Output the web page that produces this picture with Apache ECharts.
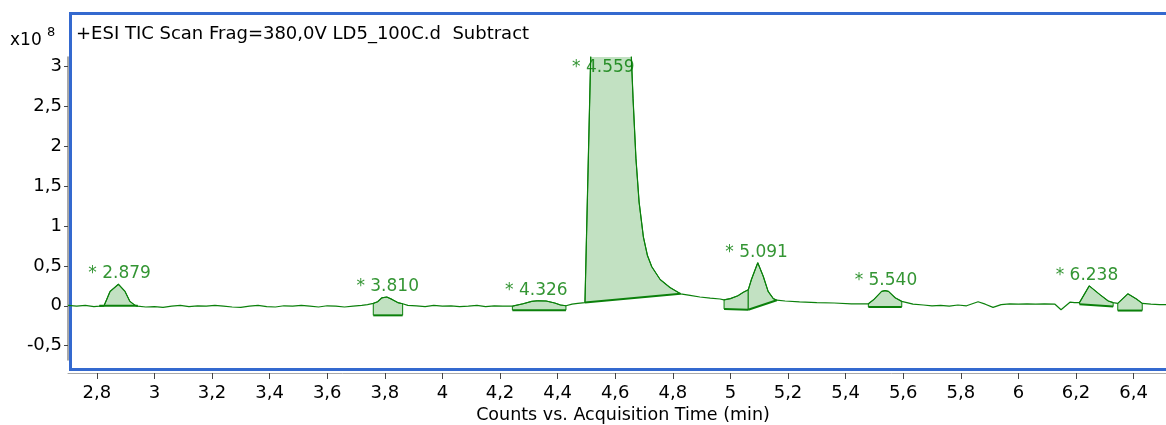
<!DOCTYPE html>
<html lang="en">
<head>
<meta charset="UTF-8">
<title>TIC chromatogram</title>
<style>
  html, body { margin: 0; padding: 0; background: #fff; }
  #main { width: 1166px; height: 425px; }
</style>
</head>
<body>
<div id="main"></div>
<script src="https://cdn.jsdelivr.net/npm/echarts@6/dist/echarts.min.js"></script>
<script>
const chart = echarts.init(document.getElementById('main'));

// acquisition time (min)
const times = [
  2.70, 2.73, 2.76, 2.79, 2.809, 2.825, 2.834, 2.846, 2.875, 2.898, 2.915, 2.933, 2.942,
  2.97, 3.00, 3.03, 3.06, 3.09, 3.12, 3.15, 3.18, 3.21, 3.24, 3.27, 3.30, 3.33, 3.36,
  3.39, 3.42, 3.45, 3.48, 3.51, 3.54, 3.57, 3.60, 3.63, 3.66, 3.69, 3.72, 3.74,
  3.760, 3.775, 3.79, 3.807, 3.825, 3.845, 3.862,
  3.88, 3.91, 3.94, 3.97, 4.00, 4.03, 4.06, 4.09, 4.12, 4.15, 4.18, 4.21,
  4.243, 4.28, 4.31, 4.33, 4.36, 4.39, 4.41, 4.429,
  4.45, 4.47, 4.495, 4.53, 4.56, 4.60, 4.645, 4.662, 4.672, 4.683, 4.698, 4.712, 4.727, 4.756, 4.79, 4.827,
  4.86, 4.894, 4.93, 4.964, 4.978, 5.00, 5.026, 5.045, 5.062,
  5.073, 5.095, 5.114, 5.131, 5.149, 5.161,
  5.19, 5.24, 5.30, 5.36, 5.42, 5.479,
  5.497, 5.525, 5.537, 5.549, 5.572, 5.595,
  5.634, 5.67, 5.70, 5.73, 5.76, 5.79, 5.82, 5.86, 5.885, 5.912, 5.94, 5.97, 6.00, 6.03,
  6.06, 6.09, 6.127, 6.148, 6.179, 6.195,
  6.212, 6.246, 6.283, 6.312, 6.329,
  6.345, 6.38, 6.41, 6.43,
  6.46, 6.49, 6.52
];
// counts (x10^8)
const counts = [
  0.005, -0.005, 0.005, -0.01, -0.005, 0.0, 0.075, 0.18, 0.27, 0.18, 0.055, 0.005, -0.005,
  -0.015, -0.01, -0.02, -0.005, 0.005, -0.01, 0.0, -0.005, 0.005, -0.005, -0.015, -0.02, -0.005, 0.005,
  -0.01, -0.015, 0.0, -0.005, 0.005, -0.005, -0.015, 0.0, -0.005, -0.015, -0.005, 0.005, 0.015,
  0.03, 0.05, 0.10, 0.11, 0.08, 0.04, 0.025,
  0.005, 0.0, -0.01, 0.005, -0.005, 0.0, -0.01, -0.005, 0.005, -0.01, 0.0, -0.005,
  -0.005, 0.025, 0.055, 0.063, 0.06, 0.035, 0.01, 0.0,
  0.02, 0.03, 0.04, 5.45, 5.6, 4.8, 4.1, 2.6, 1.85, 1.3, 0.86, 0.63, 0.49, 0.33, 0.23, 0.15,
  0.13, 0.11, 0.095, 0.085, 0.075, 0.09, 0.125, 0.17, 0.2,
  0.33, 0.54, 0.37, 0.18, 0.09, 0.07,
  0.06, 0.05, 0.04, 0.035, 0.025, 0.025,
  0.075, 0.18, 0.19, 0.18, 0.10, 0.055,
  0.02, 0.01, 0.0, 0.005, -0.005, 0.01, 0.0, 0.05, 0.02, -0.02, 0.015, 0.025, 0.02, 0.025,
  0.02, 0.025, 0.02, -0.05, 0.045, 0.04,
  0.04, 0.25, 0.14, 0.06, 0.04,
  0.03, 0.15, 0.085, 0.03,
  0.02, 0.015, 0.015
];

// integration regions: start, end, baseline at start, baseline at end
const regionStart = [2.809, 3.760, 4.243, 4.495, 4.978, 5.062, 5.479, 6.212, 6.345];
const regionEnd   = [2.942, 3.862, 4.429, 4.827, 5.062, 5.161, 5.595, 6.329, 6.430];
const regionBase0 = [0.0, -0.12, -0.055, 0.04, -0.04, -0.05, -0.015, 0.02, -0.06];
const regionBase1 = [0.0, -0.12, -0.055, 0.15, -0.05, 0.07, -0.015, -0.01, -0.06];

// peak labels and the region each one sits over
const peakLabels = ['2.879', '3.810', '4.326', '4.559', '5.091', '5.540', '6.238'];
const peakRegion = [0, 1, 2, 3, 5, 6, 7];

const xTicks = [2.8, 3, 3.2, 3.4, 3.6, 3.8, 4, 4.2, 4.4, 4.6, 4.8, 5, 5.2, 5.4, 5.6, 5.8, 6, 6.2, 6.4];
const yTicks = [-0.5, 0, 0.5, 1, 1.5, 2, 2.5, 3];

const yMin = -0.68, yMax = 3.12;
const green = '#0b800b';
const font = 'DejaVu Sans';
const comma = v => String(v).replace('.', ',');

const trace = times.map((t, i) => [t, counts[i]]);
const regions = regionStart.map((s, i) => [s, regionEnd[i], regionBase0[i], regionBase1[i]]);

// label sits above the highest point of its region (or just under the top when clipped)
const labelData = peakLabels.map((txt, i) => {
  const r = peakRegion[i];
  let apex = -Infinity;
  trace.forEach(p => {
    if (p[0] >= regionStart[r] - 1e-9 && p[0] <= regionEnd[r] + 1e-9) apex = Math.max(apex, p[1]);
  });
  const clipped = apex >= yMax;
  return {
    value: [parseFloat(txt), clipped ? yMax : apex],
    label: { position: clipped ? 'bottom' : 'top', distance: 2 }
  };
});

function renderRegion(params, api) {
  const s = api.value(0), e = api.value(1);
  const b0 = api.coord([s, api.value(2)]);
  const b1 = api.coord([e, api.value(3)]);
  const curve = trace
    .filter(p => p[0] >= s - 1e-9 && p[0] <= e + 1e-9)
    .map(p => api.coord(p));
  const outline = [b0].concat(curve, [b1]);
  return {
    type: 'group',
    children: [
      { type: 'polygon', shape: { points: outline }, style: { fill: '#c2e1c2' } },
      { type: 'polyline', shape: { points: outline }, style: { fill: null, stroke: green, lineWidth: 1 } },
      { type: 'line', shape: { x1: b0[0], y1: b0[1], x2: b1[0], y2: b1[1] }, style: { stroke: green, lineWidth: 2 } }
    ]
  };
}

const option = {
  animation: false,
  title: {
    text: '+ESI TIC Scan Frag=380,0V LD5_100C.d  Subtract',
    left: 76,
    top: 25,
    padding: 0,
    textStyle: { fontFamily: font, fontSize: 18, fontWeight: 'normal', color: '#000' }
  },
  graphic: [
    {
      type: 'rect',
      shape: { x: 70.5, y: 13.5, width: 1130, height: 356 },
      style: { fill: null, stroke: '#3469cf', lineWidth: 3 },
      silent: true
    },
    {
      type: 'text',
      left: 10,
      top: 26,
      style: {
        text: '{a|x10 }{b|8}',
        rich: {
          a: { fontFamily: font, fontSize: 17, color: '#000', verticalAlign: 'bottom' },
          b: { fontFamily: font, fontSize: 13, color: '#000', verticalAlign: 'top', padding: [0, 0, 10, 0] }
        }
      }
    }
  ],
  grid: { left: 68, right: 0, top: 57, bottom: 65, outerBoundsMode: 'none' },
  xAxis: {
    type: 'value',
    min: 2.7,
    max: 6.5125,
    offset: 13,
    name: 'Counts vs. Acquisition Time (min)',
    nameLocation: 'middle',
    nameGap: 30,
    nameTextStyle: { fontFamily: font, fontSize: 17.5, color: '#000', padding: [0, 0, 0, 12] },
    splitLine: { show: false },
    axisLine: { onZero: false, lineStyle: { color: '#a8a8a8', width: 1 } },
    axisTick: { customValues: xTicks, length: 6, lineStyle: { color: '#444' } },
    axisLabel: {
      customValues: xTicks,
      formatter: comma,
      fontFamily: font, fontSize: 18, color: '#000', margin: 11
    }
  },
  yAxis: {
    type: 'value',
    min: yMin,
    max: yMax,
    splitLine: { show: false },
    axisLine: { show: true, onZero: false, lineStyle: { color: '#8c8c8c', width: 1.5 } },
    axisTick: { show: true, customValues: yTicks, length: 4, lineStyle: { color: '#444' } },
    axisLabel: {
      customValues: yTicks,
      formatter: comma,
      fontFamily: font, fontSize: 18, color: '#000', margin: 6
    }
  },
  series: [
    {
      name: 'integration',
      type: 'custom',
      clip: true,
      data: regions,
      encode: { x: [0, 1], y: [2, 3] },
      renderItem: renderRegion,
      z: 1
    },
    {
      name: 'TIC',
      type: 'line',
      data: trace,
      showSymbol: false,
      clip: true,
      lineStyle: { color: green, width: 1.2 },
      z: 2
    },
    {
      name: 'peaks',
      type: 'scatter',
      symbolSize: 0,
      data: labelData,
      label: {
        show: true,
        formatter: p => '* ' + peakLabels[p.dataIndex],
        fontFamily: font, fontSize: 17, color: '#007a00'
      },
      z: 3
    }
  ]
};

chart.setOption(option);
</script>
</body>
</html>
